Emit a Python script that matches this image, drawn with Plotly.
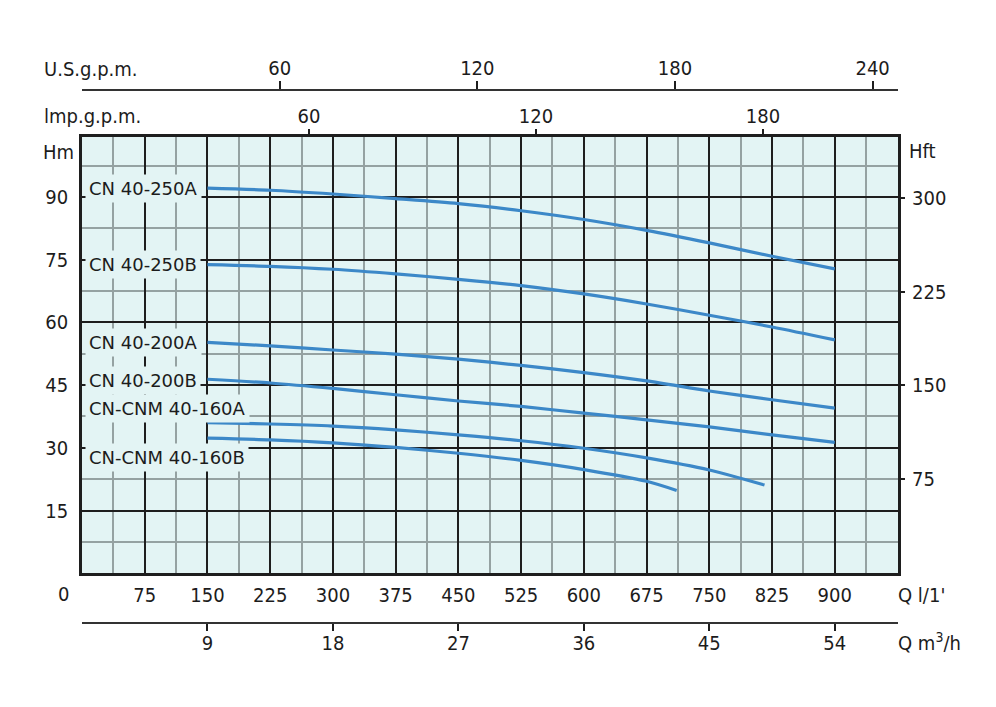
import plotly.graph_objects as go

# ---------------- data ----------------
q_250A = [150, 225, 300, 375, 450, 525, 600, 675, 750, 825, 900]
h_250A = [92.1, 91.6, 90.7, 89.6, 88.4, 86.7, 84.6, 82.0, 79.0, 75.8, 72.8]
q_250B = [150, 225, 300, 375, 450, 525, 600, 675, 750, 825, 900]
h_250B = [73.8, 73.4, 72.7, 71.6, 70.3, 68.8, 66.8, 64.4, 61.7, 58.9, 55.8]
q_200A = [150, 225, 300, 375, 450, 525, 600, 675, 750, 825, 900]
h_200A = [55.2, 54.4, 53.4, 52.4, 51.2, 49.7, 48.0, 46.0, 43.6, 41.5, 39.5]
q_200B = [150, 225, 300, 375, 450, 525, 600, 675, 750, 825, 900]
h_200B = [46.4, 45.5, 44.2, 42.7, 41.2, 39.9, 38.3, 36.7, 35.0, 33.1, 31.3]
q_160A = [150, 225, 300, 375, 450, 525, 600, 675, 750, 816]
h_160A = [36.0, 35.7, 35.2, 34.3, 33.1, 31.7, 29.9, 27.6, 24.7, 21.1]
q_160B = [150, 225, 300, 375, 450, 525, 600, 675, 711]
h_160B = [32.3, 31.9, 31.2, 30.1, 28.7, 27.0, 24.8, 22.0, 19.8]

curve_names = ["CN 40-250A", "CN 40-250B", "CN 40-200A", "CN 40-200B",
               "CN-CNM 40-160A", "CN-CNM 40-160B"]
label_heights = [92.1, 73.8, 55.3, 46.2, 39.3, 27.8]

q_ticks = [75, 150, 225, 300, 375, 450, 525, 600, 675, 750, 825, 900]
hm_ticks = [15, 30, 45, 60, 75, 90]
hft_ticks = [75, 150, 225, 300]
usgpm_ticks = [60, 120, 180, 240]
impgpm_ticks = [60, 120, 180]
m3h_ticks = [9, 18, 27, 36, 45, 54]

# ---------------- style ----------------
FONT = "DejaVu Sans Condensed"
LFONT = "DejaVu Sans"
TXT = "#1c1c1c"
BG = "#e3f4f4"
CURVE = "#3c88c8"
MAJOR = "#1e1e1e"
MINOR = "#95a2a2"

OFF = 8  # page body margin of the browser
W, H = 996 - OFF, 707 - OFF
PLOT_L, PLOT_R = 82 - OFF, 898 - OFF
PAPER_T, PAPER_B = 90 - OFF, 623 - OFF
PLOT_TOP, PLOT_BOT = 136.7 - OFF, 573.3 - OFF
ML, MR, MT, MB = PLOT_L, W - PLOT_R, PAPER_T, H - PAPER_B
PW, PH = W - ML - MR, H - MT - MB


def px(x):
    return (x - OFF - ML) / PW


def py(y):
    return (H - MB - (y - OFF)) / PH


Q_MAX = 975.6
HM_MAX = 104.4
HFT_MAX = 348.7
US_MAX = 247.7
IMP_MAX = 215.7
M3H_MAX = Q_MAX * 0.06

fig = go.Figure()

curves = [(q_250A, h_250A), (q_250B, h_250B), (q_200A, h_200A),
          (q_200B, h_200B), (q_160A, h_160A), (q_160B, h_160B)]
for name, (qx, hy) in zip(curve_names, curves):
    fig.add_trace(go.Scatter(x=qx, y=hy, mode="lines", name=name,
                             line=dict(color=CURVE, width=3.2, shape="spline",
                                       smoothing=0.8),
                             showlegend=False, hoverinfo="skip"))

# empty traces so the extra axes get drawn
for xa, ya in [("x2", "y"), ("x3", "y"), ("x4", "y"), ("x", "y2")]:
    fig.add_trace(go.Scatter(x=[], y=[], xaxis=xa, yaxis=ya,
                             showlegend=False, hoverinfo="skip"))

tickfont = dict(family=FONT, size=20, color=TXT)
ydom = [(PAPER_B - PLOT_BOT) / PH, (PAPER_B - PLOT_TOP) / PH]

fig.update_layout(
    width=W, height=H,
    margin=dict(l=ML, r=MR, t=MT, b=MB, autoexpand=False),
    paper_bgcolor="white",
    plot_bgcolor=BG,
    font=dict(family=FONT, size=20, color=TXT),
    xaxis=dict(
        range=[0, Q_MAX], domain=[0, 1], anchor="y",
        tickmode="array", tickvals=q_ticks,
        ticks="", tickfont=tickfont, ticklabelstandoff=2,
        showgrid=True, gridcolor=MAJOR, gridwidth=2,
        minor=dict(tickmode="linear", tick0=0, dtick=37.5, showgrid=True,
                   gridcolor=MINOR, gridwidth=1.6, ticks=""),
        showline=True, linecolor=MAJOR, linewidth=2.5, mirror=True,
        zeroline=False, fixedrange=True,
    ),
    yaxis=dict(
        range=[0, HM_MAX], domain=ydom, anchor="x",
        tickmode="array", tickvals=hm_ticks,
        ticks="", tickfont=tickfont, ticklabelstandoff=7,
        showgrid=True, gridcolor=MAJOR, gridwidth=2,
        minor=dict(tickmode="linear", tick0=0, dtick=7.5, showgrid=True,
                   gridcolor=MINOR, gridwidth=1.6, ticks=""),
        showline=True, linecolor=MAJOR, linewidth=2.5, mirror=True,
        zeroline=False,
    ),
    yaxis2=dict(
        range=[0, HFT_MAX], overlaying="y", side="right", anchor="x",
        tickmode="array", tickvals=hft_ticks,
        ticks="outside", ticklen=6, tickwidth=1.5, tickcolor=MAJOR,
        tickfont=tickfont, ticklabelstandoff=3,
        showgrid=False, showline=False, zeroline=False,
    ),
    xaxis2=dict(
        range=[0, US_MAX], overlaying="x", side="top", anchor="free", position=1,
        tickmode="array", tickvals=usgpm_ticks,
        ticks="outside", ticklen=8, tickwidth=1.5, tickcolor=MAJOR,
        tickfont=tickfont, ticklabelstandoff=-2,
        showgrid=False, showline=True, linecolor="#333333", linewidth=1.5,
        zeroline=False,
    ),
    xaxis4=dict(
        range=[0, IMP_MAX], overlaying="x", side="top", anchor="y",
        tickmode="array", tickvals=impgpm_ticks,
        ticks="outside", ticklen=7, tickwidth=1.5, tickcolor=MAJOR,
        tickfont=tickfont, ticklabelstandoff=-2,
        showgrid=False, showline=False, zeroline=False,
    ),
    xaxis3=dict(
        range=[0, M3H_MAX], overlaying="x", side="bottom", anchor="free", position=0,
        tickmode="array", tickvals=m3h_ticks,
        ticks="outside", ticklen=7, tickwidth=1.5, tickcolor=MAJOR,
        tickfont=tickfont, ticklabelstandoff=-5,
        showgrid=False, showline=True, linecolor="#333333", linewidth=1.5,
        zeroline=False,
    ),
)

# curve labels with background masking the grid
for name, hy in zip(curve_names, label_heights):
    fig.add_annotation(x=3, y=hy, xref="x", yref="y", text=name,
                       showarrow=False, xanchor="left", yanchor="middle",
                       font=dict(family=LFONT, size=18, color=TXT),
                       bgcolor=BG, borderpad=3)

# axis captions (reference pixel positions)
captions = [
    ("U.S.g.p.m.", 42, 69),
    ("lmp.g.p.m.", 42, 116),
    ("Hm", 41, 152),
    ("Hft", 907, 151),
    ("Q l/1'", 896, 595),
    ("Q m<sup>3</sup>/h", 896, 642),
    ("0", 56, 594),
]
for text, x, y in captions:
    fig.add_annotation(x=px(x), y=py(y), xref="paper", yref="paper", text=text,
                       showarrow=False, xanchor="left", yanchor="middle",
                       font=dict(family=FONT, size=20, color=TXT))

fig.write_html("out.html")
